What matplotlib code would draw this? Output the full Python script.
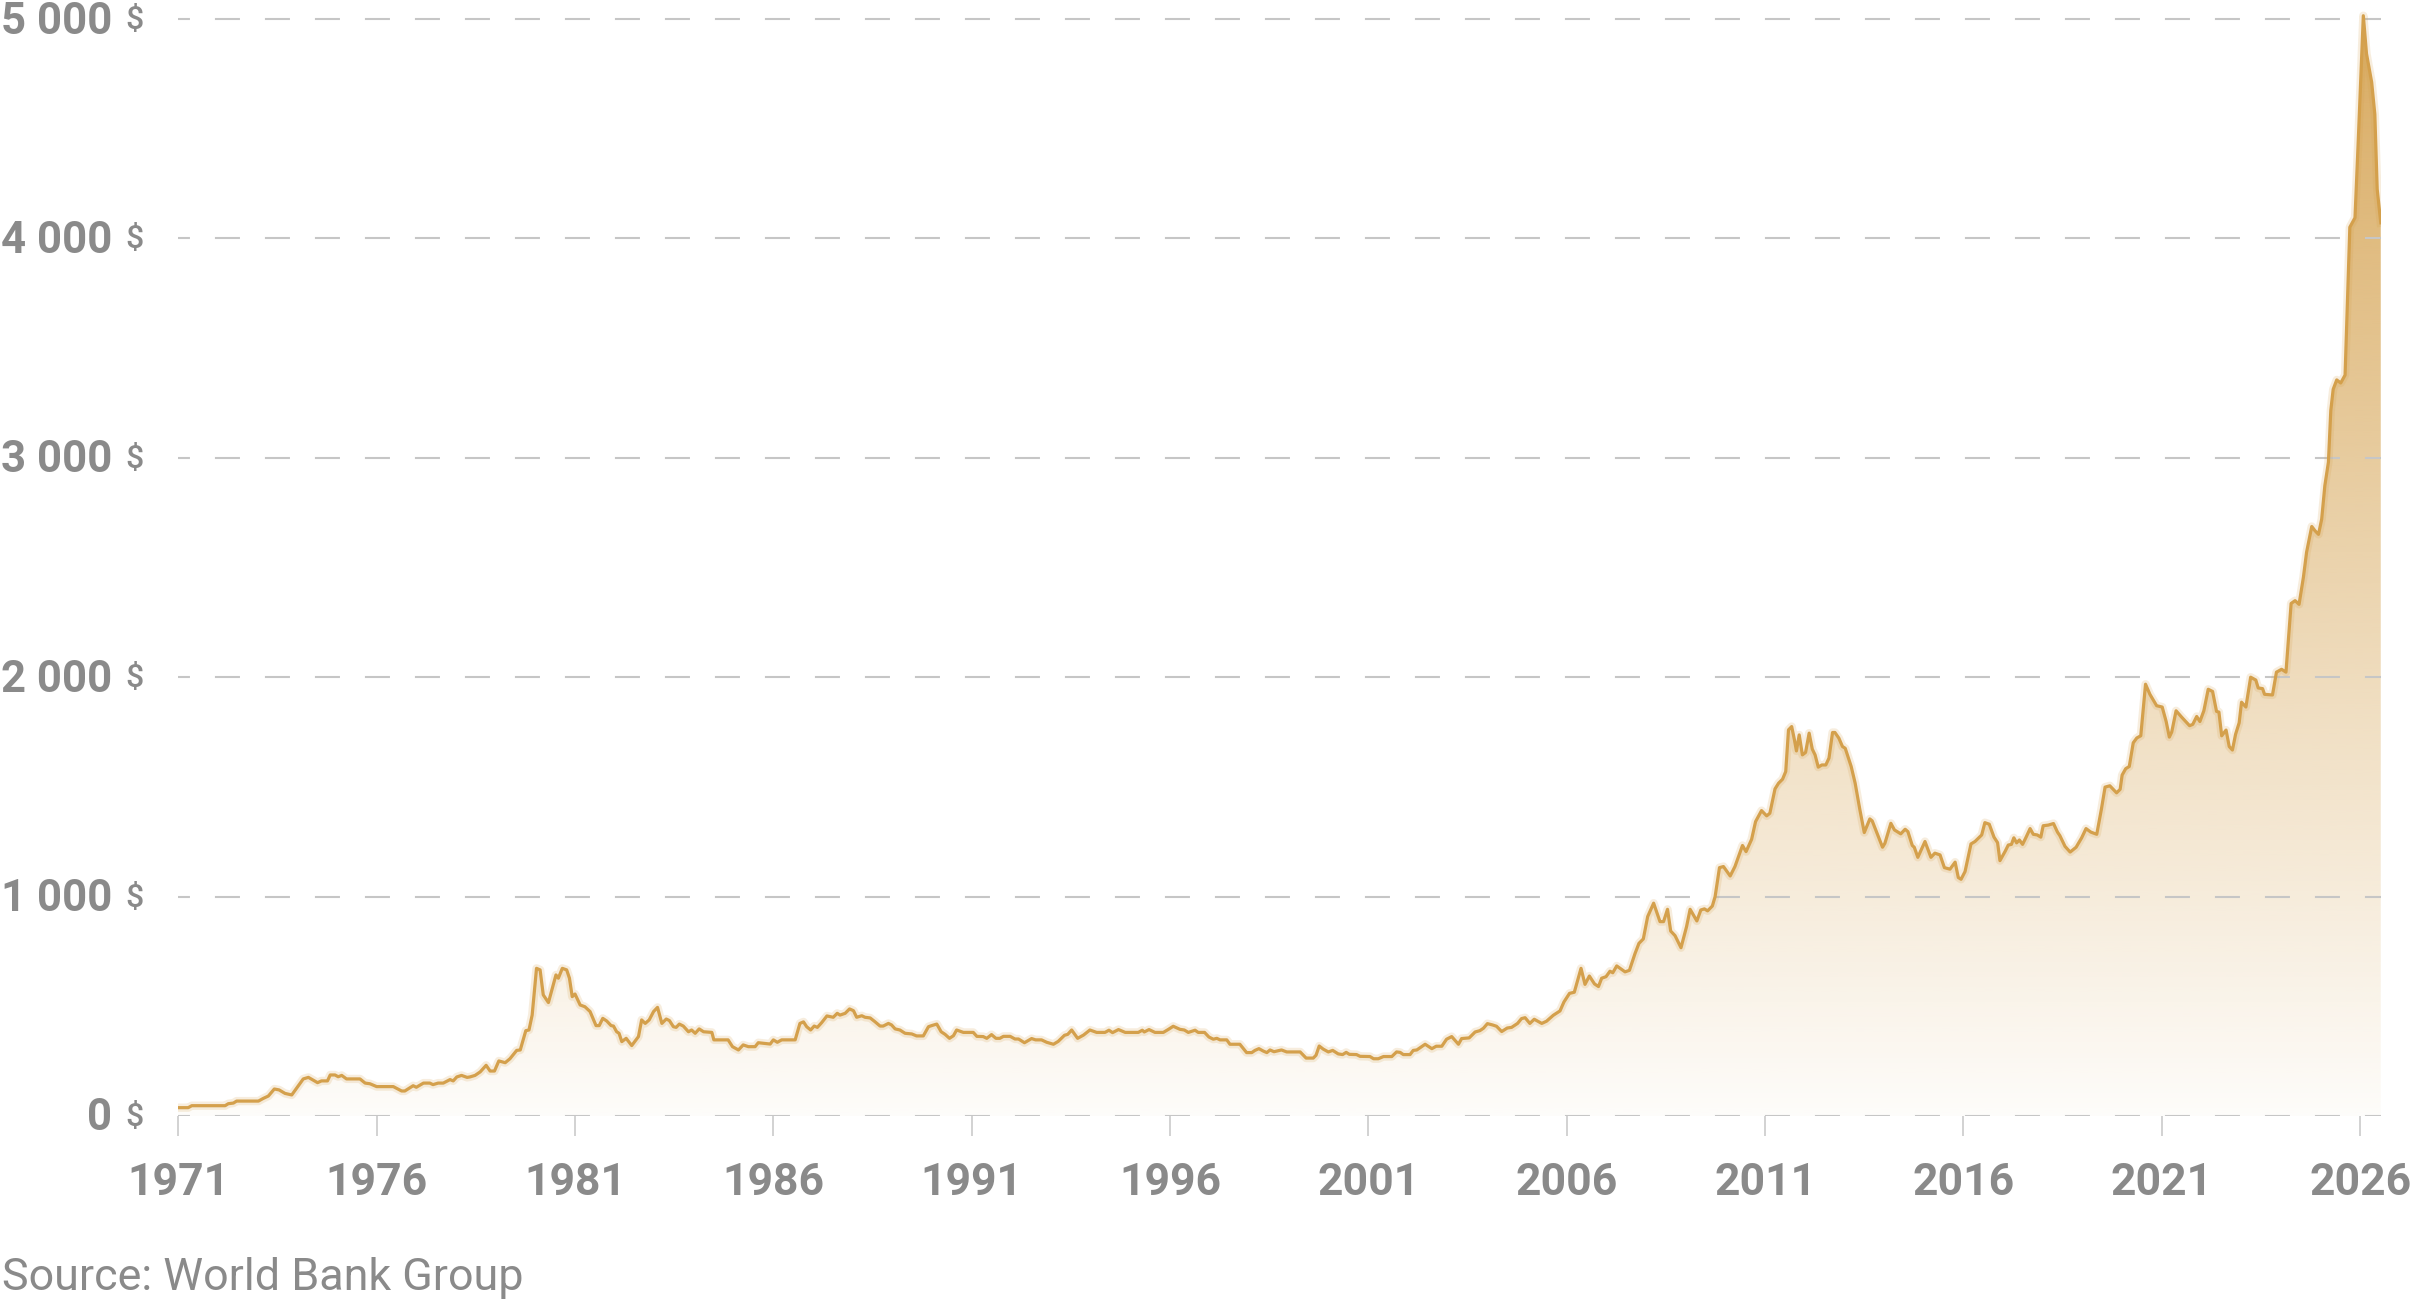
import matplotlib
matplotlib.use('Agg')
import matplotlib.pyplot as plt
import matplotlib.colors as mcolors
import matplotlib.transforms as mtransforms
import numpy as np

# monthly-ish gold price (USD / troy ounce)
years = [
    1971.00, 1971.25, 1971.34, 1972.18, 1972.26, 1972.39, 1972.47, 1973.02, 1973.14, 1973.27,
    1973.42, 1973.54, 1973.69, 1973.86, 1974.15, 1974.28, 1974.51, 1974.61, 1974.76, 1974.83,
    1974.95, 1975.03, 1975.12, 1975.24, 1975.58, 1975.71, 1975.83, 1976.00, 1976.42, 1976.63,
    1976.71, 1976.92, 1977.00, 1977.18, 1977.34, 1977.42, 1977.55, 1977.68, 1977.85, 1977.93,
    1978.02, 1978.14, 1978.28, 1978.35, 1978.48, 1978.61, 1978.76, 1978.86, 1978.97, 1979.08,
    1979.24, 1979.36, 1979.53, 1979.62, 1979.76, 1979.84, 1979.92, 1980.03,
    1980.12, 1980.20, 1980.33, 1980.52, 1980.58, 1980.68, 1980.79, 1980.86, 1980.93, 1981.00,
    1981.13, 1981.25, 1981.38, 1981.53, 1981.61, 1981.70, 1981.80, 1981.91, 1981.97, 1982.05,
    1982.11, 1982.18, 1982.29, 1982.43, 1982.60, 1982.68, 1982.77, 1982.87, 1982.98, 1983.08,
    1983.19, 1983.30, 1983.38, 1983.48, 1983.55, 1983.63, 1983.73, 1983.86, 1983.94, 1984.03,
    1984.13, 1984.24, 1984.45, 1984.50, 1984.86, 1984.97, 1985.12, 1985.24, 1985.37, 1985.54,
    1985.62, 1985.92, 1986.00, 1986.10, 1986.21, 1986.55, 1986.67, 1986.76, 1986.84, 1986.94,
    1987.03, 1987.11, 1987.22, 1987.35, 1987.51, 1987.61, 1987.68, 1987.81, 1987.92, 1988.02,
    1988.10, 1988.23, 1988.31, 1988.44, 1988.56, 1988.69, 1988.77, 1988.90, 1988.98, 1989.07,
    1989.19,
    1989.32, 1989.49, 1989.61, 1989.78, 1989.91, 1989.99, 1990.12, 1990.23, 1990.33, 1990.44,
    1990.54, 1990.62, 1990.79, 1991.04, 1991.13, 1991.29, 1991.38, 1991.50, 1991.61, 1991.71,
    1991.80, 1991.97, 1992.09, 1992.18, 1992.33, 1992.51, 1992.61, 1992.76, 1992.89, 1993.06,
    1993.18, 1993.34, 1993.42, 1993.52, 1993.67, 1993.82, 1993.98, 1994.15, 1994.36, 1994.46,
    1994.55, 1994.70, 1994.87, 1995.20, 1995.30, 1995.35, 1995.47, 1995.62, 1995.83, 1995.96,
    1996.08, 1996.25, 1996.36, 1996.46, 1996.63, 1996.71, 1996.87, 1996.98, 1997.09, 1997.18,
    1997.26, 1997.43, 1997.51, 1997.76, 1997.93, 1998.06, 1998.14, 1998.24, 1998.35, 1998.44,
    1998.52, 1998.62, 1998.81, 1998.94, 1999.28, 1999.43, 1999.61, 1999.68, 1999.76, 1999.86,
    1999.99, 2000.10, 2000.24, 2000.35, 2000.44, 2000.52, 2000.70, 2000.79, 2001.04, 2001.13,
    2001.25, 2001.38, 2001.59, 2001.71, 2001.80, 2001.88, 2002.05, 2002.13, 2002.22, 2002.43,
    2002.60, 2002.71, 2002.85, 2002.97, 2003.10, 2003.27, 2003.35, 2003.54, 2003.69, 2003.81,
    2003.90, 2004.00, 2004.13, 2004.23, 2004.36, 2004.50, 2004.61, 2004.76, 2004.86, 2004.95,
    2005.07, 2005.18, 2005.37, 2005.49, 2005.66, 2005.83, 2005.93, 2006.07, 2006.19, 2006.36,
    2006.46, 2006.57, 2006.70, 2006.80, 2006.88, 2006.99, 2007.09, 2007.16, 2007.26, 2007.47,
    2007.58,
    2007.72, 2007.82, 2007.93, 2008.04, 2008.19, 2008.35, 2008.44, 2008.54, 2008.62, 2008.73,
    2008.88, 2009.02, 2009.11, 2009.28, 2009.38, 2009.47, 2009.55, 2009.67, 2009.74, 2009.85,
    2009.95, 2010.12, 2010.24, 2010.43, 2010.52, 2010.66, 2010.76, 2010.91, 2011.04, 2011.12,
    2011.25, 2011.34, 2011.44, 2011.52, 2011.59, 2011.67, 2011.74, 2011.79, 2011.86, 2011.94,
    2012.02, 2012.11, 2012.19, 2012.26, 2012.34, 2012.43, 2012.53, 2012.61, 2012.70, 2012.76,
    2012.86, 2012.95, 2013.02, 2013.17, 2013.27, 2013.39, 2013.50, 2013.64, 2013.70, 2013.96,
    2014.02, 2014.17, 2014.26, 2014.42, 2014.53, 2014.60, 2014.71, 2014.76, 2014.85, 2015.03,
    2015.18, 2015.28, 2015.41, 2015.52, 2015.66, 2015.79, 2015.87, 2015.94, 2016.04, 2016.19,
    2016.29, 2016.46, 2016.54, 2016.65, 2016.77, 2016.86,
    2016.92, 2017.05, 2017.13, 2017.21, 2017.27, 2017.34, 2017.41, 2017.49, 2017.58, 2017.68,
    2017.76, 2017.86, 2017.95, 2018.01, 2018.14, 2018.27, 2018.37, 2018.43, 2018.56, 2018.69,
    2018.84, 2018.98, 2019.09, 2019.21, 2019.36, 2019.48, 2019.57, 2019.69, 2019.86, 2019.95,
    2020.00, 2020.09, 2020.18, 2020.28, 2020.37, 2020.47, 2020.59, 2020.70, 2020.87, 2021.01,
    2021.11, 2021.19, 2021.25, 2021.36, 2021.50, 2021.70, 2021.78, 2021.88, 2021.96, 2022.06,
    2022.17, 2022.28, 2022.38, 2022.44, 2022.51, 2022.62, 2022.70, 2022.78, 2022.86, 2022.95,
    2023.01, 2023.12, 2023.24, 2023.37, 2023.43, 2023.54, 2023.59, 2023.79, 2023.89, 2024.02,
    2024.13, 2024.26, 2024.36, 2024.46, 2024.57, 2024.65, 2024.78, 2024.86, 2024.95, 2025.03,
    2025.11, 2025.20, 2025.26, 2025.32, 2025.41, 2025.51, 2025.62, 2025.74, 2025.87, 2025.95,
    2026.08, 2026.16, 2026.29, 2026.37, 2026.43, 2026.52,
]
price = [
    38, 38, 47, 47, 56, 59, 68, 68, 80, 91,
    123, 119, 103, 96, 169, 176, 152, 160, 160, 187,
    187, 179, 185, 169, 169, 150, 147, 134, 134, 114,
    114, 138, 131, 150, 150, 143, 150, 150, 166, 160,
    178, 185, 176, 178, 185, 201, 231, 205, 205, 251,
    243, 261, 299, 301, 389, 392, 460, 673,
    666, 552, 517, 643, 628, 673, 666, 628, 544, 556,
    506, 498, 476, 412, 412, 445, 433, 412, 410, 384,
    377, 339, 354, 321, 362, 438, 422, 438, 476, 495,
    422, 442, 435, 407, 404, 419, 410, 384, 392, 377,
    397, 384, 381, 347, 347, 316, 301, 324, 316, 316,
    334, 328, 347, 336, 347, 347, 422, 429, 407, 392,
    410, 404, 426, 456, 450, 468, 460, 468, 488, 480,
    450, 457, 450, 447, 430, 410, 410, 422, 415, 397,
    392,
    377, 374, 365, 365, 407, 412, 419, 384, 372, 354,
    366, 392, 381, 381, 363, 362, 354, 371, 354, 354,
    363, 363, 351, 351, 334, 353, 347, 347, 336, 327,
    340, 368, 372, 392, 354, 369, 392, 381, 381, 391,
    380, 394, 381, 381, 391, 383, 394, 381, 381, 395,
    409, 395, 392, 381, 391, 381, 381, 360, 350, 354,
    347, 347, 327, 327, 289, 289, 299, 307, 296, 289,
    301, 293, 301, 292, 292, 264, 264, 277, 319, 305,
    292, 299, 283, 280, 290, 281, 280, 272, 271, 261,
    261, 271, 271, 292, 290, 280, 280, 299, 301, 327,
    307, 318, 318, 350, 362, 327, 353, 356, 383, 389,
    400, 421, 415, 409, 385, 401, 404, 422, 444, 448,
    422, 441, 422, 432, 459, 479, 520, 559, 564, 673,
    600, 638, 602, 590, 628, 635, 660, 653, 684, 657,
    664,
    740, 787, 807, 909, 970, 886, 886, 942, 843, 822,
    767, 863, 942, 889, 939, 944, 935, 957, 1000, 1132,
    1137, 1094, 1137, 1233, 1205, 1261, 1342, 1392, 1368, 1380,
    1491, 1517, 1535, 1570, 1760, 1775, 1714, 1664, 1737, 1646,
    1657, 1745, 1672, 1646, 1590, 1600, 1600, 1631, 1748, 1748,
    1722, 1684, 1676, 1593, 1517, 1395, 1292, 1354, 1345, 1225,
    1243, 1334, 1304, 1286, 1307, 1296, 1233, 1225, 1179, 1251,
    1179, 1198, 1190, 1132, 1125, 1157, 1087, 1079, 1114, 1240,
    1251, 1281, 1337, 1330, 1271, 1246,
    1164, 1206, 1235, 1238, 1268, 1245, 1258, 1238, 1271, 1310,
    1284, 1281, 1271, 1323, 1326, 1333, 1294, 1278, 1229, 1203,
    1225, 1268, 1310, 1294, 1284, 1401, 1499, 1505, 1473, 1489,
    1554, 1583, 1593, 1701, 1723, 1733, 1968, 1922, 1870, 1864,
    1798, 1727, 1750, 1847, 1818, 1779, 1785, 1821, 1798, 1847,
    1945, 1935, 1844, 1841, 1733, 1759, 1684, 1668, 1740, 1792,
    1886, 1864, 2000, 1987, 1951, 1948, 1922, 1919, 2023, 2036,
    2023, 2336, 2349, 2332, 2456, 2570, 2687, 2668, 2651, 2720,
    2873, 2980, 3215, 3312, 3355, 3341, 3377, 4051, 4094, 4435,
    5015, 4842, 4712, 4566, 4224, 4071,
]

year_ticks = list(range(1971, 2027, 5))
price_ticks = [0, 1000, 2000, 3000, 4000, 5000]
price_labels = ['0', '1 000', '2 000', '3 000', '4 000', '5 000']
source_text = 'Source: World Bank Group'

GOLD = '#D4A04C'
GREY = '#8A8A8A'
GRID = '#C6C6C6'

plt.rcParams['font.family'] = ['Roboto', 'DejaVu Sans']
plt.rcParams['lines.scale_dashes'] = False

W, H = 2412, 1301
fig = plt.figure(figsize=(W / 100, H / 100), dpi=100)
fig.patch.set_facecolor('white')

# plot area in pixels of the reference
x_left, x_right = 178.3, 2381.0
y_zero = 1116.0
px_per_year = 39.67
px_per_unit = 0.2194

ax = fig.add_axes([x_left / W, 1 - y_zero / H, (x_right - x_left) / W, y_zero / H])
x_max = 1971 + (x_right - x_left) / px_per_year
y_max = y_zero / px_per_unit

# gradient fill under the curve
poly = ax.fill_between(years, price, 0, color='none', lw=0)
grad = np.linspace(0, 5100, 512)
rgba = np.zeros((512, 1, 4))
rgba[..., :3] = mcolors.to_rgb(GOLD)
rgba[:, 0, 3] = 0.03 + 0.85 * grad / 5000
im = ax.imshow(rgba, aspect='auto', extent=[1971, x_max, 0, 5100],
               origin='lower', interpolation='bilinear', zorder=1)
im.set_clip_path(poly.get_paths()[0], ax.transData)

# dashed gridlines
for v in price_ticks:
    ax.axhline(v, color=GRID, lw=1.5, linestyle=(9.4, (18, 18)), zorder=2)

# line with a soft glow
ax.plot(years, price, color=GOLD, lw=6, alpha=0.18, solid_joinstyle='round', zorder=3)
ax.plot(years, price, color=GOLD, lw=2.3, solid_joinstyle='round', zorder=4)

ax.set_xlim(1971, x_max)
ax.set_ylim(0, y_max)
for s in ax.spines.values():
    s.set_visible(False)
ax.set_facecolor('none')

ax.set_xticks(year_ticks)
ax.set_xticklabels([str(y) for y in year_ticks], fontsize=32, fontweight='bold', color=GREY)
ax.tick_params(axis='x', length=14.4, width=1.1, color=GRID, pad=19)
ax.set_yticks([])

# y labels: bold number and lighter dollar sign
tr = mtransforms.blended_transform_factory(fig.transFigure, ax.transData)
num_tr = mtransforms.offset_copy(tr, fig=fig, y=-14.5, units='dots')
cur_tr = mtransforms.offset_copy(tr, fig=fig, y=-10, units='dots')
for v, lab in zip(price_ticks, price_labels):
    ax.text(112 / W, v, lab, transform=num_tr, ha='right', va='baseline',
            fontsize=31.5, fontweight='bold', color=GREY, clip_on=False)
    ax.text(144 / W, v, '$', transform=cur_tr, ha='right', va='baseline',
            fontsize=23, fontweight='medium', color=GREY, clip_on=False)

fig.text(2 / W, 1 - 1290 / H, source_text, ha='left', va='baseline',
         fontsize=32.3, color=GREY)

fig.savefig('out.png', dpi=100, facecolor='white')
